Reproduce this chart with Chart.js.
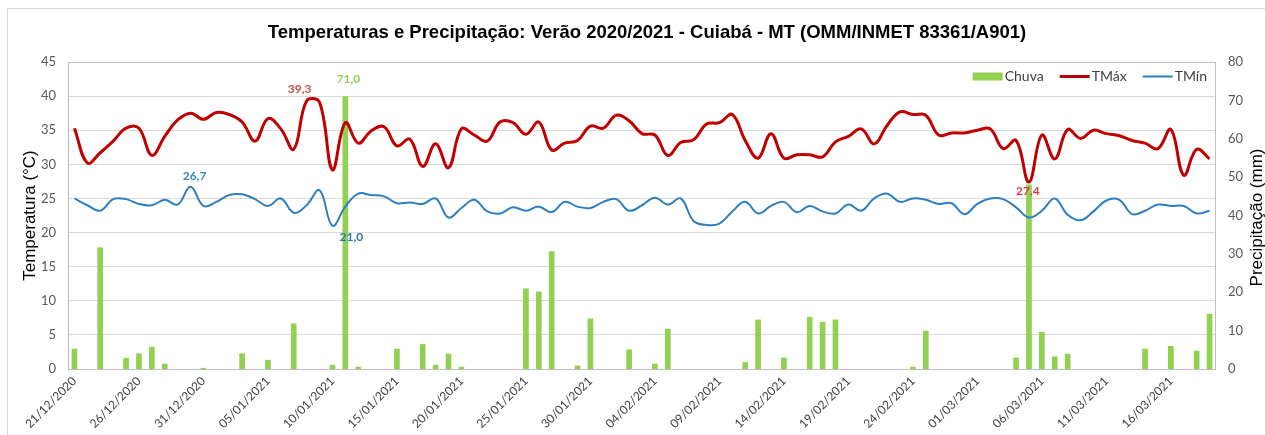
<!DOCTYPE html>
<html>
<head>
<meta charset="utf-8">
<script src="https://cdn.jsdelivr.net/npm/chart.js@4.4.1/dist/chart.umd.min.js"></script>
<style>
html,body{margin:0;padding:0;background:#fff;}
#wrap{width:1265px;height:435px;position:relative;}
canvas{display:block;}
</style>
</head>
<body>
<div id="wrap"><canvas id="c" width="1265" height="435" style="width:1265px;height:435px"></canvas></div>
<script>
const titleText = "Temperaturas e Precipitação: Verão 2020/2021 - Cuiabá - MT (OMM/INMET 83361/A901)";
const leftAxisTitle = "Temperatura (°C)";
const rightAxisTitle = "Precipitação (mm)";

const dates = [
 "21/12/2020","22/12/2020","23/12/2020","24/12/2020","25/12/2020","26/12/2020","27/12/2020","28/12/2020","29/12/2020","30/12/2020","31/12/2020",
 "01/01/2021","02/01/2021","03/01/2021","04/01/2021","05/01/2021","06/01/2021","07/01/2021","08/01/2021","09/01/2021","10/01/2021",
 "11/01/2021","12/01/2021","13/01/2021","14/01/2021","15/01/2021","16/01/2021","17/01/2021","18/01/2021","19/01/2021","20/01/2021",
 "21/01/2021","22/01/2021","23/01/2021","24/01/2021","25/01/2021","26/01/2021","27/01/2021","28/01/2021","29/01/2021","30/01/2021","31/01/2021",
 "01/02/2021","02/02/2021","03/02/2021","04/02/2021","05/02/2021","06/02/2021","07/02/2021","08/02/2021","09/02/2021","10/02/2021",
 "11/02/2021","12/02/2021","13/02/2021","14/02/2021","15/02/2021","16/02/2021","17/02/2021","18/02/2021","19/02/2021","20/02/2021",
 "21/02/2021","22/02/2021","23/02/2021","24/02/2021","25/02/2021","26/02/2021","27/02/2021","28/02/2021",
 "01/03/2021","02/03/2021","03/03/2021","04/03/2021","05/03/2021","06/03/2021","07/03/2021","08/03/2021","09/03/2021","10/03/2021",
 "11/03/2021","12/03/2021","13/03/2021","14/03/2021","15/03/2021","16/03/2021","17/03/2021","18/03/2021","19/03/2021"
];

const tmax = [
 35.3,30.2,31.7,33.4,35.3,35.3,31.3,34.1,36.5,37.5,
 36.6,37.6,37.3,36.2,33.4,36.7,35.2,32.2,39.3,39.1,
 29.2,36.1,33.1,34.9,35.5,32.7,33.7,29.7,33.0,29.5,
 35.2,34.3,33.4,36.2,36.1,34.4,36.2,32.1,33.1,33.5,
 35.6,35.3,37.2,36.4,34.5,34.3,31.3,33.2,33.6,35.9,
 36.1,37.3,33.5,30.9,34.5,30.9,31.4,31.4,31.1,33.3,
 34.1,35.2,33.0,35.7,37.7,37.3,37.2,34.3,34.6,34.6,
 35.0,35.2,32.3,33.5,27.4,34.3,30.8,35.1,33.8,35.0,
 34.5,34.2,33.5,33.1,32.3,35.1,28.4,32.2,30.8
];

const tmin = [
 25.0,24.0,23.2,24.9,24.9,24.2,24.0,24.8,24.1,26.7,
 23.9,24.5,25.5,25.6,24.9,23.9,25.0,22.9,24.0,26.2,
 21.0,23.8,25.7,25.5,25.3,24.3,24.4,24.2,25.0,22.2,
 23.6,24.8,23.1,22.8,23.7,23.2,23.8,23.0,24.5,23.8,
 23.6,24.5,24.9,23.2,24.0,25.1,24.1,25.0,21.7,21.1,
 21.3,23.1,24.5,22.8,23.9,24.5,23.0,23.9,23.1,22.8,
 24.1,23.2,25.0,25.7,24.5,25.0,24.8,24.2,24.3,22.7,
 24.2,25.0,24.9,23.7,22.2,23.2,25.0,22.6,21.8,23.1,
 24.7,24.8,22.7,23.2,24.1,23.9,23.9,22.8,23.2
];

const chuva = [
 5.2,0,31.6,0,2.8,4.0,5.7,1.3,0,0,
 0.2,0,0,4.0,0,2.3,0,11.8,0,0,
 1.0,71.0,0.5,0,0,5.2,0,6.4,1.0,3.9,
 0.5,0,0,0,0,20.9,20.1,30.6,0,0.8,
 13.1,0,0,5.0,0,1.3,10.4,0,0,0,
 0,0,1.7,12.8,0,2.9,0,13.5,12.2,12.8,
 0,0,0,0,0,0.5,9.9,0,0,0,
 0,0,0,2.9,48.0,9.6,3.2,3.9,0,0,
 0,0,0,5.2,0,5.9,0,4.7,14.3
];

const tempTicks = [0,5,10,15,20,25,30,35,40,45];
const rainTicks = [0,10,20,30,40,50,60,70,80];
const labelEvery = 5;

const markedTmax = [18, 74];
const markedTmin = [9, 20];
const markedChuva = [21];

const fmt = v => v.toFixed(1).replace('.', ',');

const framePlugin = {
  id: 'framePlugin',
  beforeDraw(chart) {
    const {ctx} = chart;
    ctx.save();
    ctx.fillStyle = '#ffffff';
    ctx.fillRect(0, 0, chart.width, chart.height);
    ctx.strokeStyle = '#d9d9d9';
    ctx.lineWidth = 1;
    ctx.strokeRect(7.5, 8.5, 1300, 500);
    ctx.restore();
  },
  afterDraw(chart) {
    const {ctx, chartArea: a} = chart;
    ctx.save();
    ctx.strokeStyle = '#bfbfbf';
    ctx.lineWidth = 1;
    ctx.strokeRect(Math.round(a.left) + 0.5, Math.round(a.top) + 0.5, Math.round(a.width) - 1, Math.round(a.height));
    ctx.fillStyle = '#000000';
    ctx.font = 'bold 18.5px "Liberation Sans", Arial, sans-serif';
    ctx.textAlign = 'center';
    ctx.textBaseline = 'middle';
    ctx.fillText(titleText, 647, 33);
    ctx.font = '17px "Liberation Sans", Arial, sans-serif';
    const cy = (a.top + a.bottom) / 2;
    ctx.save();
    ctx.translate(30, cy);
    ctx.rotate(-Math.PI / 2);
    ctx.fillText(leftAxisTitle, 0, 0);
    ctx.restore();
    ctx.save();
    ctx.translate(1257, cy + 2);
    ctx.rotate(-Math.PI / 2);
    ctx.fillText(rightAxisTitle, 0, 0);
    ctx.restore();
    ctx.restore();
  }
};

const legendPlugin = {
  id: 'insideLegend',
  afterDraw(chart) {
    const {ctx, chartArea: a} = chart;
    ctx.save();
    ctx.font = '14px Lato, "Open Sans", sans-serif';
    ctx.textBaseline = 'middle';
    ctx.textAlign = 'left';
    const sym = 30, gap = 2, itemGap = 16;
    const items = chart.data.datasets.map(d => ({
      label: d.label, type: d.type || 'bar',
      color: (d.type === 'line') ? d.borderColor : d.backgroundColor,
      lw: d.borderWidth
    }));
    let total = 0;
    items.forEach((it, i) => {
      it.tw = ctx.measureText(it.label).width;
      total += sym + gap + it.tw + (i < items.length - 1 ? itemGap : 0);
    });
    let x = a.right - 9 - total;
    const y = a.top + 14.5;
    items.forEach(it => {
      if (it.type === 'line') {
        ctx.strokeStyle = it.color;
        ctx.lineWidth = it.lw;
        ctx.beginPath();
        ctx.moveTo(x, y);
        ctx.lineTo(x + sym, y);
        ctx.stroke();
      } else {
        ctx.fillStyle = it.color;
        ctx.fillRect(x, y - 4, sym, 8);
      }
      x += sym + gap;
      ctx.fillStyle = '#404040';
      ctx.fillText(it.label, x, y);
      x += it.tw + itemGap;
    });
    ctx.restore();
  }
};

const valueLabelPlugin = {
  id: 'valueLabels',
  afterDatasetsDraw(chart) {
    const {ctx} = chart;
    const specs = [
      {ds: 1, list: markedTmax, styles: [{dx: -7, dy: -12, color: '#C0504D'}, {dx: -1, dy: 9, color: '#E0393E'}], src: tmax},
      {ds: 2, list: markedTmin, styles: [{dx: 4, dy: -11, color: '#3A87C4'}, {dx: 19, dy: 11, color: '#2E75B6'}], src: tmin},
      {ds: 0, list: markedChuva, styles: [{dx: 3, dy: -17, color: '#92D050'}], src: chuva}
    ];
    ctx.save();
    ctx.font = 'bold 12px Lato, "Open Sans", sans-serif';
    ctx.textAlign = 'center';
    ctx.textBaseline = 'middle';
    specs.forEach(s => {
      const meta = chart.getDatasetMeta(s.ds);
      s.list.forEach((idx, k) => {
        const el = meta.data[idx];
        const st = s.styles[k];
        ctx.fillStyle = st.color;
        ctx.fillText(fmt(s.src[idx]), el.x + st.dx, el.y + st.dy);
      });
    });
    ctx.restore();
  }
};

new Chart(document.getElementById('c').getContext('2d'), {
  type: 'bar',
  data: {
    labels: dates,
    datasets: [
      {type: 'bar', label: 'Chuva', data: chuva.map(v => (v === 0 ? null : v)), yAxisID: 'y1', backgroundColor: '#92D050', barThickness: 5, order: 3},
      {type: 'line', label: 'TMáx', data: tmax, yAxisID: 'y', borderColor: '#C00000', backgroundColor: '#C00000', borderWidth: 3, pointRadius: 0, tension: 0.4, order: 1},
      {type: 'line', label: 'TMín', data: tmin, yAxisID: 'y', borderColor: '#2E7EBF', backgroundColor: '#2E7EBF', borderWidth: 2, pointRadius: 0, tension: 0.4, order: 2}
    ]
  },
  options: {
    responsive: false,
    animation: false,
    layout: {padding: {left: 8, top: 62, right: 0, bottom: 0}},
    plugins: {legend: {display: false}, tooltip: {enabled: false}, title: {display: false}},
    scales: {
      x: {
        offset: true,
        grid: {display: false, drawTicks: false},
        border: {display: false},
        ticks: {
          autoSkip: false, maxRotation: 45, minRotation: 45, padding: 5,
          color: '#404040', font: {family: 'Lato', size: 12},
          callback: (v, i) => (i % labelEvery === 0 ? dates[i] : '')
        },
        afterFit: s => { s.height = 66; }
      },
      y: {
        position: 'left',
        min: tempTicks[0], max: tempTicks[tempTicks.length - 1],
        ticks: {stepSize: tempTicks[1] - tempTicks[0], padding: 12, color: '#595959', font: {family: 'Lato', size: 13}},
        grid: {color: '#d9d9d9', drawTicks: false},
        border: {display: false},
        afterFit: s => { s.width = 60; }
      },
      y1: {
        position: 'right',
        min: rainTicks[0], max: rainTicks[rainTicks.length - 1],
        ticks: {stepSize: rainTicks[1] - rainTicks[0], padding: 12, color: '#595959', font: {family: 'Lato', size: 13}},
        grid: {display: false, drawTicks: false},
        border: {display: false},
        afterFit: s => { s.width = 49; }
      }
    }
  },
  plugins: [framePlugin, legendPlugin, valueLabelPlugin]
});
</script>
</body>
</html>
